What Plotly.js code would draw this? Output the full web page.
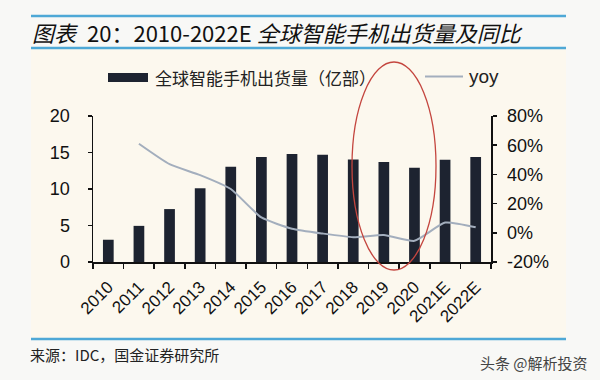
<!DOCTYPE html>
<html>
<head>
<meta charset="utf-8">
<script src="https://cdn.plot.ly/plotly-3.0.1.min.js"></script>
<style>
html,body{margin:0;padding:0;background:#f8f8f6;}
#chart{width:600px;height:380px;}
</style>
</head>
<body>
<div id="chart"></div>
<script>
// ---- data ----
const categories = ["2010","2011","2012","2013","2014","2015","2016","2017","2018","2019","2020","2021E","2022E"];
const shipments = [3.05, 4.95, 7.25, 10.1, 13.05, 14.4, 14.8, 14.7, 14.05, 13.7, 12.9, 14.0, 14.4];
const yoyPct = [null, 61, 47, 39.5, 30, 10.5, 2.8, -0.5, -3, -1.5, -5.5, 7, 3.8];
const seriesNames = ["全球智能手机出货量（亿部）", "yoy"];
const leftTicks = [0, 5, 10, 15, 20];
const rightTicks = [-20, 0, 20, 40, 60, 80];
const rightTickLabels = ["-20%", "0%", "20%", "40%", "60%", "80%"];
const titleText = "<i>图表\u2002</i>20：2010-2022E <i>全球智能手机出货量及同比</i>";
const sourceText = "来源：IDC，国金证券研究所";
const watermarkText = "头条 @解析投资";

// ---- layout helpers (pixel -> paper) ----
const L = 93, R = 491, T = 116, B = 262;
const W = R - L, H = B - T;
const px = x => (x - L) / W;
const py = y => (B - y) / H;

const barColor = "#1d2330";
const lineColor = "#a3aebd";
const ruleColor = "#4ea8d6";
const tickFont = {family: "Liberation Sans, Arial, sans-serif", size: 18, color: "#111"};

const traces = [
  {type: "bar", x: categories, y: shipments, name: seriesNames[0], yaxis: "y",
   marker: {color: barColor}, showlegend: false, hoverinfo: "none"},
  {type: "scatter", mode: "lines", x: categories, y: yoyPct, name: seriesNames[1], yaxis: "y2",
   line: {color: lineColor, width: 2, shape: "spline", smoothing: 0.5}, showlegend: false,
   connectgaps: false, hoverinfo: "none"}
];

const layout = {
  width: 600, height: 380,
  margin: {l: L, r: 600 - R, t: T, b: 380 - B, pad: 0},
  paper_bgcolor: "#f8f8f6",
  plot_bgcolor: "rgba(0,0,0,0)",
  bargap: 0.65,
  showlegend: false,
  xaxis: {
    type: "category", showgrid: false, zeroline: false,
    showline: true, linecolor: "#111", linewidth: 1.5,
    ticks: "outside", ticklen: 5, tickwidth: 1.5, tickcolor: "#111",
    tickson: "boundaries", tickangle: -45, ticklabelstandoff: 7, ticklabelshift: 0,
    tickfont: {family: "Liberation Sans, Arial, sans-serif", size: 17, color: "#111"}
  },
  yaxis: {
    range: [0, 20], tickvals: leftTicks, showgrid: false, zeroline: false,
    showline: true, linecolor: "#111", linewidth: 1.5,
    ticks: "outside", ticklen: 4, tickwidth: 1.5, tickcolor: "#111",
    ticklabelstandoff: 14,
    tickfont: tickFont
  },
  yaxis2: {
    overlaying: "y", side: "right", range: [-20, 80],
    tickvals: rightTicks, ticktext: rightTickLabels,
    showgrid: false, zeroline: false,
    showline: true, linecolor: "#111", linewidth: 1.5,
    ticks: "outside", ticklen: 4, tickwidth: 1.5, tickcolor: "#111",
    ticklabelstandoff: 7,
    tickfont: tickFont
  },
  shapes: [
    {type: "rect", xref: "paper", yref: "paper", x0: px(31), x1: px(566), y0: py(339), y1: py(48),
     fillcolor: "#fcf8ee", line: {width: 0}, layer: "below"},
    {type: "line", xref: "paper", yref: "paper", x0: px(31), x1: px(566), y0: py(16), y1: py(16),
     line: {color: ruleColor, width: 2.5}},
    {type: "line", xref: "paper", yref: "paper", x0: px(31), x1: px(566), y0: py(48), y1: py(48),
     line: {color: ruleColor, width: 2.5}},
    {type: "line", xref: "paper", yref: "paper", x0: px(31), x1: px(566), y0: py(339), y1: py(339),
     line: {color: ruleColor, width: 2.5}},
    {type: "rect", xref: "paper", yref: "paper", x0: px(108), x1: px(148), y0: py(82), y1: py(73),
     fillcolor: barColor, line: {width: 0}},
    {type: "line", xref: "paper", yref: "paper", x0: px(425), x1: px(463), y0: py(76.5), y1: py(76.5),
     line: {color: lineColor, width: 2}},
    {type: "circle", xref: "paper", yref: "paper", x0: px(352), x1: px(436), y0: py(270), y1: py(62),
     line: {color: "#c4463f", width: 1.3}, layer: "above"}
  ],
  annotations: [
    {xref: "paper", yref: "paper", x: px(30), y: py(32), xanchor: "left", yanchor: "middle",
     text: titleText, showarrow: false,
     font: {family: "Noto Sans CJK SC, sans-serif", size: 22, color: "#111"}},
    {xref: "paper", yref: "paper", x: px(153), y: py(77), xanchor: "left", yanchor: "middle",
     text: seriesNames[0], showarrow: false,
     font: {family: "Noto Sans CJK SC, sans-serif", size: 17, color: "#222"}},
    {xref: "paper", yref: "paper", x: px(467), y: py(76), xanchor: "left", yanchor: "middle",
     text: seriesNames[1], showarrow: false,
     font: {family: "Liberation Sans, Arial, sans-serif", size: 19, color: "#222"}},
    {xref: "paper", yref: "paper", x: px(28), y: py(354), xanchor: "left", yanchor: "middle",
     text: sourceText, showarrow: false,
     font: {family: "Noto Sans CJK SC, sans-serif", size: 15, color: "#222"}},
    {xref: "paper", yref: "paper", x: px(590), y: py(362), xanchor: "right", yanchor: "middle",
     text: watermarkText, showarrow: false,
     font: {family: "Noto Sans CJK SC, sans-serif", size: 15, color: "#444"}}
  ]
};

Plotly.newPlot("chart", traces, layout, {staticPlot: true, displayModeBar: false});
</script>
</body>
</html>
